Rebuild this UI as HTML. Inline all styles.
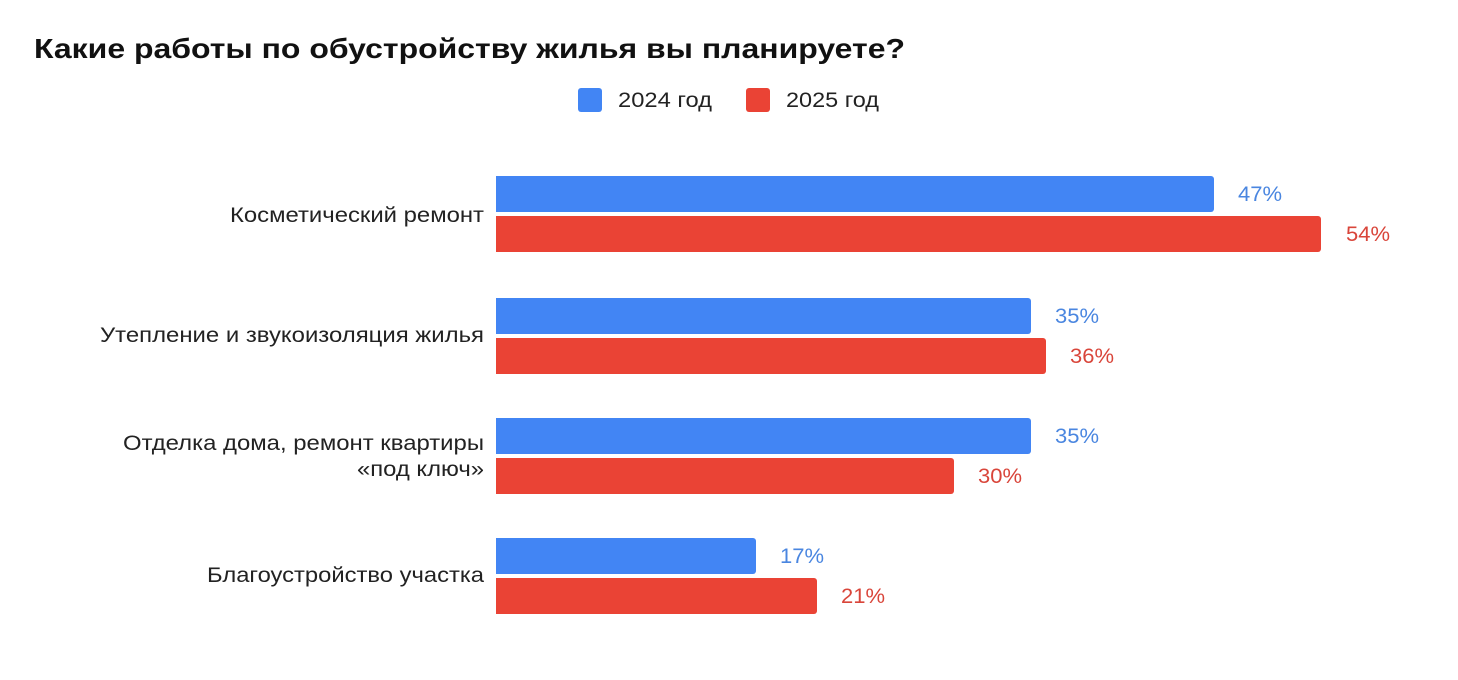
<!DOCTYPE html>
<html><head><meta charset="utf-8"><style>
html,body{margin:0;padding:0;background:#fff;}
svg{display:block;font-family:"Liberation Sans",sans-serif;}
</style></head><body>
<svg width="1458" height="680" viewBox="0 0 1458 680" xmlns="http://www.w3.org/2000/svg">
<rect width="1458" height="680" fill="#fff"/>
<text x="34" y="58" font-size="28" font-weight="bold" fill="#111" textLength="871" lengthAdjust="spacingAndGlyphs">Какие работы по обустройству жилья вы планируете?</text>
<rect x="578" y="88" width="24" height="24" rx="3" fill="#4285f4"/>
<text x="618" y="107" font-size="21" fill="#222" textLength="94" lengthAdjust="spacingAndGlyphs">2024 год</text>
<rect x="746" y="88" width="24" height="24" rx="3" fill="#ea4335"/>
<text x="786" y="107" font-size="21" fill="#222" textLength="93" lengthAdjust="spacingAndGlyphs">2025 год</text>
<g font-size="21" fill="#222" lengthAdjust="spacingAndGlyphs">
<text x="230" y="222" textLength="254" lengthAdjust="spacingAndGlyphs">Косметический ремонт</text>
<text x="100" y="342" textLength="384" lengthAdjust="spacingAndGlyphs">Утепление и звукоизоляция жилья</text>
<text x="123" y="450" textLength="361" lengthAdjust="spacingAndGlyphs">Отделка дома, ремонт квартиры</text>
<text x="357" y="476" textLength="127" lengthAdjust="spacingAndGlyphs">«под ключ»</text>
<text x="207" y="582" textLength="277" lengthAdjust="spacingAndGlyphs">Благоустройство участка</text>
</g>
<g>
<path d="M496 176H1211a3 3 0 0 1 3 3V209a3 3 0 0 1-3 3H496Z" fill="#4285f4"/>
<path d="M496 216H1318a3 3 0 0 1 3 3V249a3 3 0 0 1-3 3H496Z" fill="#ea4335"/>
<path d="M496 298H1028a3 3 0 0 1 3 3V331a3 3 0 0 1-3 3H496Z" fill="#4285f4"/>
<path d="M496 338H1043a3 3 0 0 1 3 3V371a3 3 0 0 1-3 3H496Z" fill="#ea4335"/>
<path d="M496 418H1028a3 3 0 0 1 3 3V451a3 3 0 0 1-3 3H496Z" fill="#4285f4"/>
<path d="M496 458H951a3 3 0 0 1 3 3V491a3 3 0 0 1-3 3H496Z" fill="#ea4335"/>
<path d="M496 538H753a3 3 0 0 1 3 3V571a3 3 0 0 1-3 3H496Z" fill="#4285f4"/>
<path d="M496 578H814a3 3 0 0 1 3 3V611a3 3 0 0 1-3 3H496Z" fill="#ea4335"/>
</g>
<g font-size="21">
<text x="1238" y="201" fill="#4a86e0" textLength="44" lengthAdjust="spacingAndGlyphs">47%</text>
<text x="1346" y="241" fill="#d9453a" textLength="44" lengthAdjust="spacingAndGlyphs">54%</text>
<text x="1055" y="323" fill="#4a86e0" textLength="44" lengthAdjust="spacingAndGlyphs">35%</text>
<text x="1070" y="363" fill="#d9453a" textLength="44" lengthAdjust="spacingAndGlyphs">36%</text>
<text x="1055" y="443" fill="#4a86e0" textLength="44" lengthAdjust="spacingAndGlyphs">35%</text>
<text x="978" y="483" fill="#d9453a" textLength="44" lengthAdjust="spacingAndGlyphs">30%</text>
<text x="780" y="563" fill="#4a86e0" textLength="44" lengthAdjust="spacingAndGlyphs">17%</text>
<text x="841" y="603" fill="#d9453a" textLength="44" lengthAdjust="spacingAndGlyphs">21%</text>
</g>
</svg>
</body></html>
